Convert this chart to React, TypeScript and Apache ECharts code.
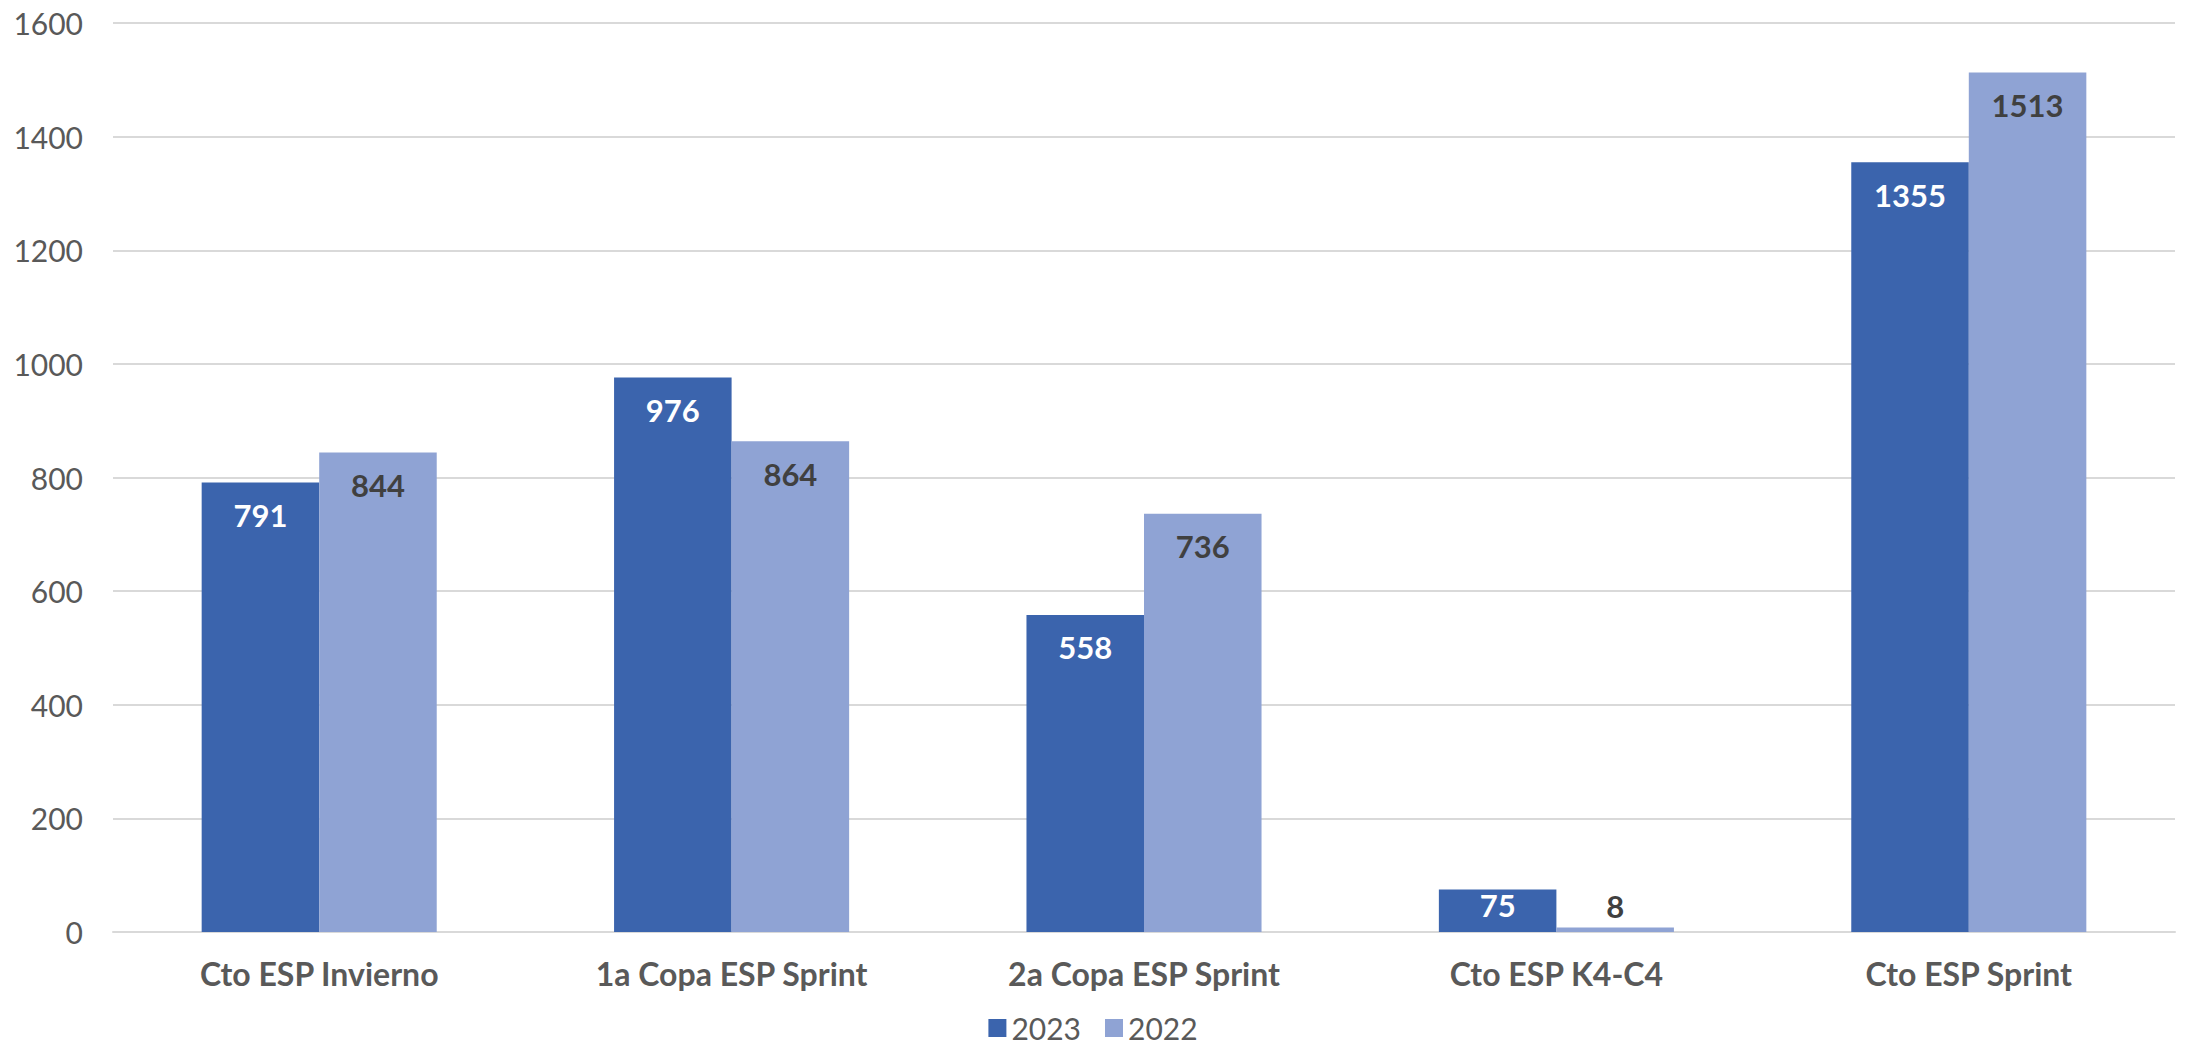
import React, { useEffect, useRef } from "react";
import * as echarts from "echarts";

const categories = [
  "Cto ESP Invierno",
  "1a Copa ESP Sprint",
  "2a Copa ESP Sprint",
  "Cto ESP K4-C4",
  "Cto ESP Sprint",
];
const seriesNames = ["2023", "2022"];
const values2023 = [791, 976, 558, 75, 1355];
const values2022 = [844, 864, 736, 8, 1513];
const yTicks = { min: 0, max: 1600, interval: 200 };

const FONT = "Lato, 'Noto Sans', sans-serif";

function labelFor(v: number, color: string) {
  if (v < 30) {
    return { show: true, position: "top", distance: 6, color: "#404040" };
  }
  if (v < 120) {
    return { show: true, position: "insideTop", distance: 0, color };
  }
  return { show: true, position: "insideTop", distance: 17, color };
}

export default function App() {
  const ref = useRef<HTMLDivElement>(null);
  useEffect(() => {
    document.body.style.margin = "0";
    const chart = echarts.init(ref.current!, undefined, { renderer: "svg" });
    const mk = (name: string, vals: number[], color: string, labelColor: string) => ({
      name,
      type: "bar",
      barGap: "0%",
      barCategoryGap: "43%",
      itemStyle: { color },
      label: {
        show: true,
        fontFamily: FONT,
        fontWeight: "bold",
        fontSize: 31,
        color: labelColor,
      },
      data: vals.map((v) => ({ value: v, label: labelFor(v, labelColor) })),
    });
    chart.setOption({
      animation: false,
      backgroundColor: "#ffffff",
      textStyle: { fontFamily: FONT },
      grid: { left: 113, right: 11, top: 23, bottom: 118, containLabel: false },
      legend: {
        data: seriesNames,
        bottom: 2,
        left: "center",
        itemWidth: 18,
        itemHeight: 18,
        itemGap: 24,
        icon: "rect",
        textStyle: { fontFamily: FONT, fontSize: 30, color: "#595959" },
      },
      xAxis: {
        type: "category",
        data: categories,
        axisLine: { show: true, lineStyle: { color: "#D9D9D9", width: 2 } },
        axisTick: { show: false },
        axisLabel: {
          fontFamily: FONT,
          fontWeight: "bold",
          fontSize: 32,
          color: "#595959",
          margin: 25,
          interval: 0,
        },
      },
      yAxis: {
        type: "value",
        min: yTicks.min,
        max: yTicks.max,
        interval: yTicks.interval,
        axisLine: { show: false },
        axisTick: { show: false },
        splitLine: { lineStyle: { color: "#D9D9D9", width: 2 } },
        axisLabel: {
          fontFamily: FONT,
          fontSize: 30,
          color: "#595959",
          margin: 30,
          formatter: (v: number) => String(v),
        },
      },
      series: [
        mk(seriesNames[0], values2023, "#3B64AD", "#FFFFFF"),
        mk(seriesNames[1], values2022, "#8FA3D4", "#404040"),
      ],
    });
    return () => chart.dispose();
  }, []);
  return <div ref={ref} style={{ width: 2186, height: 1050 }} />;
}
